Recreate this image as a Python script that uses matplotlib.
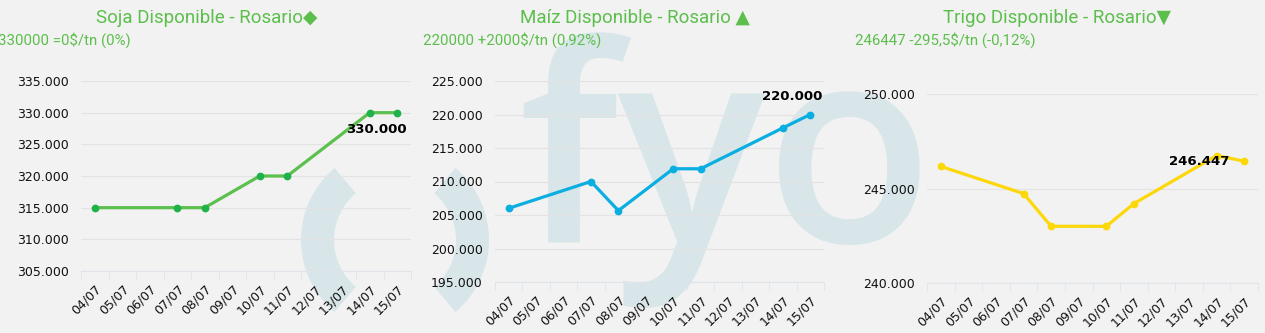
import matplotlib
matplotlib.use("Agg")
import matplotlib.pyplot as plt
import numpy as np
from matplotlib.patches import Wedge

plt.rcParams["font.family"] = ["DejaVu Sans"]

# ---------------- data ----------------
dates = ["04/07", "05/07", "06/07", "07/07", "08/07", "09/07",
         "10/07", "11/07", "12/07", "13/07", "14/07", "15/07"]
soja = [315000, None, None, 315000, 315000, None,
        320000, 320000, None, None, 330000, 330000]
maiz = [206000, None, None, 210000, 205650, None,
        211900, 211900, None, None, 218000, 220000]
trigo = [246170, None, None, 244730, 243000, None,
         243000, 244200, None, None, 246742, 246447]

titles = ["Soja Disponible - Rosario\u25C6", "Maíz Disponible - Rosario \u25B2",
          "Trigo Disponible - Rosario\u25BC"]
subtitles = ["330000 =0$/tn (0%)", "220000 +2000$/tn (0,92%)",
             "246447 -295,5$/tn (-0,12%)"]
last_labels = ["330.000", "220.000", "246.447"]
ylims = [(305000, 335000), (195000, 225000), (240000, 250000)]
ysteps = [5000, 5000, 5000]

BG = "#f2f2f2"
GREEN = "#5cbf4c"
line_colors = ["#5cc04e", "#0aaee0", "#fcd80a"]
marker_colors = ["#20b24a", "#0aaee0", "#fcd80a"]

W, H = 1265, 333
fig = plt.figure(figsize=(W / 100, H / 100), dpi=100, facecolor=BG)

def px(x0, y0, x1, y1):
    return [x0 / W, 1 - y1 / H, (x1 - x0) / W, (y1 - y0) / H]

# ---------------- watermark ----------------
wm = "#d8e6ea"
bgax = fig.add_axes([0, 0, 1, 1], zorder=-5)
bgax.set_xlim(0, W)
bgax.set_ylim(H, 0)
bgax.axis("off")
bgax.add_patch(Wedge((395, 240), 94, 130, 230, width=33, color=wm, lw=0))
bgax.add_patch(Wedge((395, 240), 94, -50, 50, width=33, color=wm, lw=0))
bgax.text(518, 242, "fyo", fontsize=198, family="Open Sans", fontweight="semibold",
          color=wm, ha="left", va="baseline")

positions = [px(81, 81, 411, 271), px(495, 81, 824, 282), px(927, 94, 1258, 283)]
title_x = [207, 635, 1057]
sub_x = [-2, 423, 855]

def fmt(v, _=None):
    return f"{int(v):,}".replace(",", ".")

x = np.arange(len(dates))
for i, (vals, pos) in enumerate(zip([soja, maiz, trigo], positions)):
    ax = fig.add_axes(pos)
    ax.patch.set_alpha(0)
    arr = np.array([np.nan if v is None else v for v in vals], dtype=float)
    m = ~np.isnan(arr)
    ax.plot(x[m], arr[m], color=line_colors[i], lw=2.3, zorder=3,
            solid_capstyle="round")
    ax.plot(x[m], arr[m], "o", color=marker_colors[i], ms=5.6, mew=0, zorder=4)
    ax.set_xlim(-0.5, len(dates) - 0.5)
    lo, hi = ylims[i]
    ax.set_ylim(lo, hi)
    ax.set_yticks(np.arange(lo, hi + 1, ysteps[i]))
    ax.yaxis.set_major_formatter(plt.FuncFormatter(fmt))
    ax.grid(axis="y", color="#e3e3e3", lw=0.9)
    ax.set_axisbelow(True)
    for s in ["top", "right", "left"]:
        ax.spines[s].set_visible(False)
    ax.spines["bottom"].set_color("#dfe3ea")
    ax.tick_params(axis="y", length=0, pad=9, labelsize=9, labelcolor="#111111")
    ax.set_xticks(x)
    ax.set_xticklabels(dates, rotation=45, ha="right", va="top",
                       rotation_mode="anchor", fontsize=9, color="#111111")
    ax.set_xticks(np.arange(-0.5, len(dates)), minor=True)
    ax.tick_params(axis="x", which="major", length=0, pad=8)
    ax.tick_params(axis="x", which="minor", length=6, color="#dfe3ea")

    # data label for last value
    lx, ly = x[m][-1], arr[m][-1]
    if i == 0:
        ax.annotate(last_labels[i], (lx, ly), xytext=(7, -12), textcoords="offset points",
                    ha="right", va="center", fontsize=9.5, fontweight="bold", color="#000000")
    elif i == 1:
        ax.annotate(last_labels[i], (lx, ly), xytext=(9, 13), textcoords="offset points",
                    ha="right", va="center", fontsize=9.5, fontweight="bold", color="#000000")
    else:
        px14 = x[m][-2]
        ax.annotate(last_labels[i], (px14, ly), xytext=(9, 0), textcoords="offset points",
                    ha="right", va="center", fontsize=9.5, fontweight="bold", color="#000000",
                    zorder=5)

    fig.text(title_x[i] / W, 1 - 18 / H, titles[i], ha="center", va="center",
             fontsize=13.5, color=GREEN, family=["Roboto", "DejaVu Sans"])
    fig.text(sub_x[i] / W, 1 - 40 / H, subtitles[i], ha="left", va="center",
             fontsize=10.8, color=GREEN, family=["Roboto", "DejaVu Sans"])

fig.savefig("out.png", dpi=100, facecolor=BG)
